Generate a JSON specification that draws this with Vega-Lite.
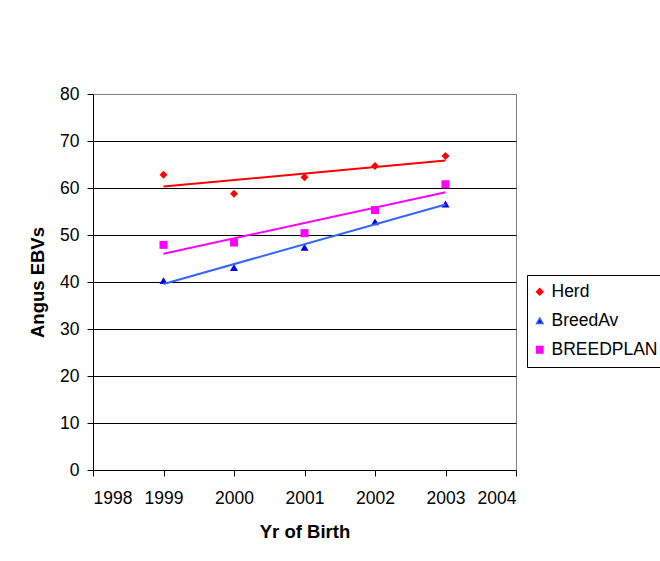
{
  "$schema": "https://vega.github.io/schema/vega-lite/v6.json",
  "width": 423,
  "height": 376,
  "autosize": {"type": "none"},
  "padding": {"left": 93, "top": 94, "right": 144, "bottom": 91},
  "background": "white",
  "config": {
    "font": "Liberation Sans",
    "view": {"stroke": "#808080", "strokeWidth": 1},
    "axis": {
      "labelColor": "black",
      "titleColor": "black",
      "domainColor": "black",
      "tickColor": "black",
      "tickSize": 6,
      "labelFontSize": 17.5,
      "titleFontSize": 18.5,
      "titleFontWeight": "bold",
      "labelFont": "Liberation Sans",
      "titleFont": "Liberation Sans"
    }
  },
  "data": {
    "values": [
      {"year": 1999, "series": "Herd", "ebv": 62.8},
      {"year": 2000, "series": "Herd", "ebv": 58.8},
      {"year": 2001, "series": "Herd", "ebv": 62.3},
      {"year": 2002, "series": "Herd", "ebv": 64.7},
      {"year": 2003, "series": "Herd", "ebv": 66.8},
      {"year": 1999, "series": "BreedAv", "ebv": 40.3},
      {"year": 2000, "series": "BreedAv", "ebv": 43.1},
      {"year": 2001, "series": "BreedAv", "ebv": 47.4},
      {"year": 2002, "series": "BreedAv", "ebv": 52.8},
      {"year": 2003, "series": "BreedAv", "ebv": 56.6},
      {"year": 1999, "series": "BREEDPLAN", "ebv": 47.9},
      {"year": 2000, "series": "BREEDPLAN", "ebv": 48.4},
      {"year": 2001, "series": "BREEDPLAN", "ebv": 50.4},
      {"year": 2002, "series": "BREEDPLAN", "ebv": 55.3},
      {"year": 2003, "series": "BREEDPLAN", "ebv": 60.8}
    ]
  },
  "layer": [
    {
      "mark": {"type": "point", "filled": true, "size": 64, "opacity": 1},
      "encoding": {
        "x": {
          "field": "year", "type": "quantitative",
          "scale": {"domain": [1998, 2004], "nice": false, "zero": false},
          "axis": {
            "values": [1998, 1999, 2000, 2001, 2002, 2003, 2004],
            "format": "d", "grid": false,
            "labelPadding": 13, "title": "Yr of Birth", "titlePadding": 16
          }
        },
        "y": {
          "field": "ebv", "type": "quantitative",
          "scale": {"domain": [0, 80], "nice": false},
          "axis": {
            "values": [0, 10, 20, 30, 40, 50, 60, 70, 80],
            "grid": true,
            "gridColor": {"condition": {"test": "datum.value == 80 || datum.value == 0", "value": "#808080"}, "value": "black"},
            "gridOpacity": 1, "gridWidth": 1,
            "labelPadding": 8, "title": "Angus EBVs", "titlePadding": 12
          }
        },
        "color": {
          "field": "series", "type": "nominal",
          "scale": {"domain": ["Herd", "BreedAv", "BREEDPLAN"], "range": ["#FF0000", "#0000FF", "#FF00FF"]},
          "legend": {
            "title": null, "orient": "none", "legendX": 434, "legendY": 181,
            "strokeColor": "black", "padding": 8, "rowPadding": 10,
            "symbolSize": 40, "labelFontSize": 17.5, "labelOffset": 3, "labelColor": "black",
            "labelLimit": 400, "symbolOffset": -4, "fillColor": "white"
          }
        },
        "shape": {
          "field": "series", "type": "nominal",
          "scale": {"domain": ["Herd", "BreedAv", "BREEDPLAN"], "range": ["diamond", "triangle-up", "square"]}
        }
      }
    },
    {
      "transform": [{"regression": "ebv", "on": "year", "groupby": ["series"]}],
      "mark": {"type": "line", "strokeWidth": 2},
      "encoding": {
        "x": {"field": "year", "type": "quantitative"},
        "y": {"field": "ebv", "type": "quantitative"},
        "stroke": {
          "field": "series", "type": "nominal",
          "scale": {"domain": ["Herd", "BreedAv", "BREEDPLAN"], "range": ["#FF0000", "#3366FF", "#FF00FF"]},
          "legend": null
        }
      }
    }
  ]
}
